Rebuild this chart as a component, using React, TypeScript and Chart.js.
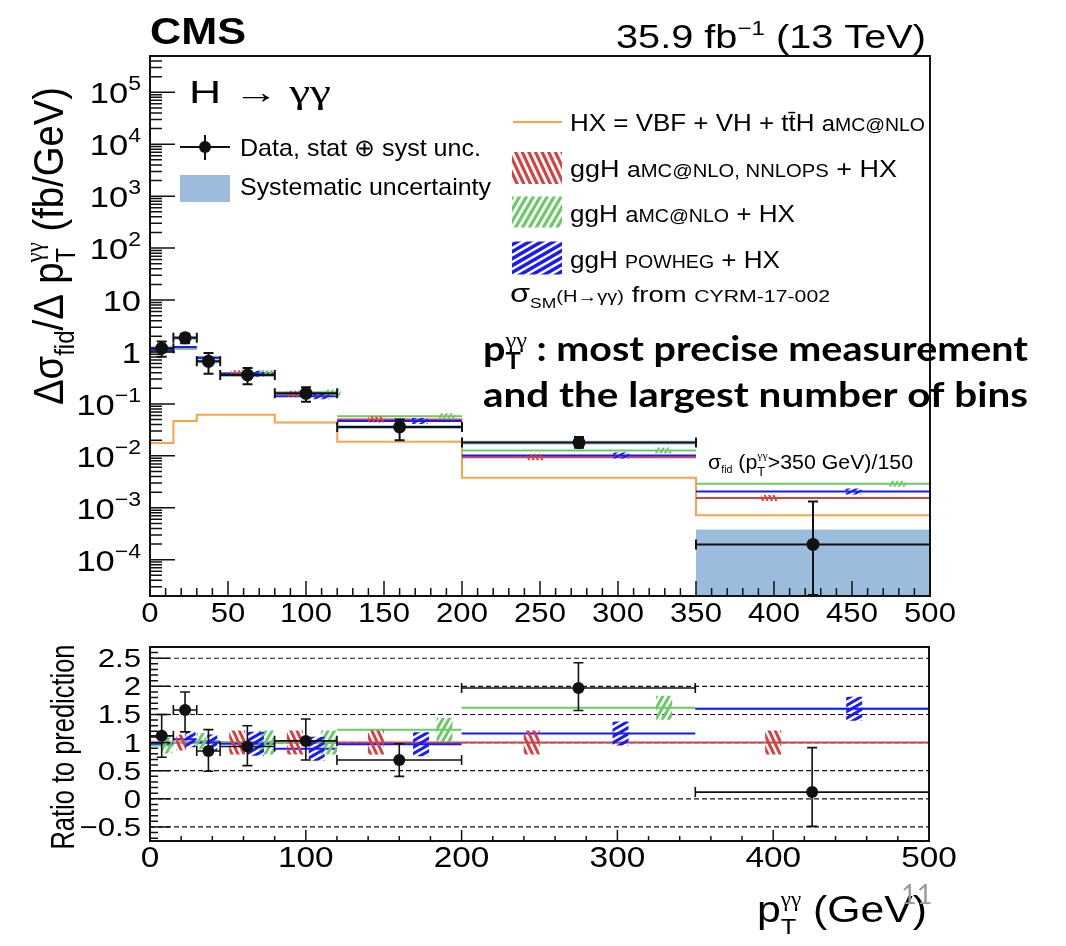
import React, { useEffect, useRef } from 'react';
import { Chart, registerables } from 'chart.js';

Chart.register(...registerables);

// ---------------- data ----------------
const binEdges = [0, 15, 30, 45, 80, 120, 200, 350, 500];
const binCenters = [7.5, 22.5, 37.5, 62.5, 100, 160, 275, 425];

// measured differential cross section (fb/GeV), last bin = sigma(>350)/150
const dataXsec = [1.18, 1.87, 0.66, 0.36, 0.16, 0.036, 0.018, 0.000197];
const dataHigh = [1.59, 2.25, 0.95, 0.49, 0.21, 0.05, 0.023, 0.00132];
const dataLow = [0.81, 1.47, 0.38, 0.24, 0.11, 0.02, 0.0143, 0.000021];
const sysHigh = [1.29, 2.03, 0.72, 0.39, 0.174, 0.039, 0.0196, 0.00038];
const sysLow = [1.08, 1.72, 0.6, 0.33, 0.147, 0.033, 0.0165, 0.000001];

// predictions (fb/GeV)
const hxXsec = [0.0176, 0.047, 0.062, 0.062, 0.044, 0.0186, 0.0038, 0.00072];
const nnlopsXsec = [1.05, 1.17, 0.77, 0.39, 0.157, 0.05, 0.0094, 0.00154];
const amcXsec = [1.0, 1.17, 0.79, 0.39, 0.165, 0.058, 0.0126, 0.0029];
const powhegXsec = [1.08, 1.24, 0.77, 0.38, 0.14, 0.047, 0.0101, 0.00205];

// ratio panel
const ratioData = [1.12, 1.58, 0.85, 0.93, 1.03, 0.69, 1.97, 0.12];
const ratioHigh = [1.5, 1.9, 1.23, 1.3, 1.42, 0.98, 2.42, 0.91];
const ratioLow = [0.74, 1.19, 0.49, 0.59, 0.69, 0.4, 1.57, -0.49];
const ratioNnlops = [1, 1, 1, 1, 1, 1, 1, 1];
const ratioAmc = [0.95, 1.0, 1.03, 1.0, 1.0, 1.23, 1.62, 1.6];
const ratioPowheg = [0.98, 1.06, 1.0, 0.98, 0.89, 0.97, 1.16, 1.6];

// positions (GeV) of the hatched theory-uncertainty patches
const hatchTopNnlops = [57, 93, 145, 247, 397];
const hatchTopAmc = [75, 117, 190, 329, 479];
const hatchTopPowheg = [68, 110, 173, 302, 451];
const hatchRatioNnlops = [20, 56, 93, 145, 245, 400];
const hatchRatioAmc = [11, 33, 75, 115, 189, 330];
const hatchRatioPowheg = [26, 40, 68, 107, 174, 302, 452];

// axes / ticks
const topYMin = 2e-5;
const topYMax = 5e5;
const topYTickExponents = [-4, -3, -2, -1, 0, 1, 2, 3, 4, 5];
const topXTicks = [0, 50, 100, 150, 200, 250, 300, 350, 400, 450, 500];
const ratioYMin = -0.75;
const ratioYMax = 2.7;
const ratioYTicks = [-0.5, 0, 0.5, 1, 1.5, 2, 2.5];
const ratioYTickLabels = ['\u22120.5', '0', '0.5', '1', '1.5', '2', '2.5'];
const ratioXTicks = [0, 100, 200, 300, 400, 500];

// ---------------- style ----------------
const W = 1066;
const H = 946;
const RED = '#d84141';
const GREEN = '#6acb66';
const BLUE = '#1a1aff';
const ORANGE = '#ffa245';
const SYS = '#9cbcdd';
const INK = '#111111';
const SX = 1.15;
const FONT = '"Liberation Sans", Arial, Helvetica, sans-serif';
const GREEK = '"Liberation Serif", "DejaVu Serif", serif';
const SLIDE_FONT = 'Lato, "Open Sans", sans-serif';

type Seg = { t: string; s: number; dy?: number; b?: boolean; stack?: boolean; f?: string };
type RichOpts = { align?: 'left' | 'right' | 'center'; width?: number; sx?: number; sy?: number; rot?: number; fam?: string; color?: string };

function segFont(sg: Seg, fam: string) {
  return `${sg.b ? 'bold ' : ''}${sg.s}px ${sg.f ?? fam}`;
}

function layoutRich(ctx: CanvasRenderingContext2D, segs: Seg[], fam: string) {
  const pos: number[] = [];
  let cur = 0;
  let ps = 0;
  let pw = 0;
  for (const sg of segs) {
    ctx.font = segFont(sg, fam);
    const w = ctx.measureText(sg.t).width;
    if (sg.stack) {
      pos.push(ps);
      pw = Math.max(pw, w);
      cur = ps + pw;
    } else {
      pos.push(cur);
      ps = cur;
      pw = w;
      cur += w;
    }
  }
  return { pos, total: cur };
}

function drawRich(ctx: CanvasRenderingContext2D, segs: Seg[], x: number, y: number, o: RichOpts = {}) {
  const fam = o.fam ?? FONT;
  const { pos, total } = layoutRich(ctx, segs, fam);
  const sx = o.width ? o.width / total : o.sx ?? 1;
  const w = total * sx;
  ctx.save();
  ctx.translate(x, y);
  if (o.rot) ctx.rotate(o.rot);
  const start = o.align === 'right' ? -w : o.align === 'center' ? -w / 2 : 0;
  ctx.translate(start, 0);
  ctx.scale(sx, o.sy ?? 1);
  ctx.fillStyle = o.color ?? '#000';
  ctx.textAlign = 'left';
  ctx.textBaseline = 'alphabetic';
  segs.forEach((sg, i) => {
    ctx.font = segFont(sg, fam);
    ctx.fillText(sg.t, pos[i], sg.dy ?? 0);
  });
  ctx.restore();
}

function clipArea(ctx: CanvasRenderingContext2D, a: any) {
  ctx.beginPath();
  ctx.rect(a.left, a.top, a.right - a.left, a.bottom - a.top);
  ctx.clip();
}

function hatch(ctx: CanvasRenderingContext2D, cx: number, cy: number, w: number, h: number, color: string, angleDeg: number, spacing: number, lw: number) {
  ctx.save();
  ctx.beginPath();
  ctx.rect(cx - w / 2, cy - h / 2, w, h);
  ctx.clip();
  ctx.strokeStyle = color;
  ctx.lineWidth = lw;
  const a = (angleDeg * Math.PI) / 180;
  const dx = Math.cos(a);
  const dy = -Math.sin(a);
  const nx = -dy;
  const ny = dx;
  const R = Math.hypot(w, h);
  ctx.beginPath();
  for (let s = -R; s <= R; s += spacing) {
    const ox = cx + nx * s;
    const oy = cy + ny * s;
    ctx.moveTo(ox - dx * R, oy - dy * R);
    ctx.lineTo(ox + dx * R, oy + dy * R);
  }
  ctx.stroke();
  ctx.restore();
}

function binIndex(x: number) {
  for (let i = 0; i < binEdges.length - 1; i++) if (x >= binEdges[i] && x < binEdges[i + 1]) return i;
  return binEdges.length - 2;
}

function segLines(vals: number[]) {
  const pts: { x: number; y: number | null }[] = [];
  vals.forEach((v, i) => {
    pts.push({ x: binEdges[i], y: v }, { x: binEdges[i + 1], y: v }, { x: binEdges[i + 1], y: null });
  });
  return pts;
}

function stepLine(vals: number[]) {
  const pts = vals.map((v, i) => ({ x: binEdges[i], y: v }));
  pts.push({ x: binEdges[vals.length], y: vals[vals.length - 1] });
  return pts;
}

function drawErrors(ctx: CanvasRenderingContext2D, xs: any, ys: any, vals: number[], hi: number[], lo: number[], lw: number, capH: number, capV: number) {
  ctx.strokeStyle = INK;
  ctx.lineWidth = lw;
  ctx.beginPath();
  vals.forEach((v, i) => {
    const x1 = xs.getPixelForValue(binEdges[i]);
    const x2 = xs.getPixelForValue(binEdges[i + 1]);
    const xc = xs.getPixelForValue(binCenters[i]);
    const yc = ys.getPixelForValue(v);
    const yh = ys.getPixelForValue(hi[i]);
    const yl = ys.getPixelForValue(lo[i]);
    ctx.moveTo(x1, yc);
    ctx.lineTo(x2, yc);
    ctx.moveTo(x1, yc - capH);
    ctx.lineTo(x1, yc + capH);
    ctx.moveTo(x2, yc - capH);
    ctx.lineTo(x2, yc + capH);
    ctx.moveTo(xc, yh);
    ctx.lineTo(xc, yl);
    ctx.moveTo(xc - capV, yh);
    ctx.lineTo(xc + capV, yh);
    ctx.moveTo(xc - capV, yl);
    ctx.lineTo(xc + capV, yl);
  });
  ctx.stroke();
}

const GG = '\u03b3\u03b3';

// ---------------- top panel decorations ----------------
const topPlugin = {
  id: 'topDeco',
  beforeDatasetsDraw(chart: any) {
    const { ctx, chartArea: a } = chart;
    const xs = chart.scales.x;
    const ys = chart.scales.y;
    ctx.save();
    clipArea(ctx, a);
    ctx.fillStyle = SYS;
    for (let i = 0; i < sysHigh.length; i++) {
      const x1 = xs.getPixelForValue(binEdges[i]);
      const x2 = xs.getPixelForValue(binEdges[i + 1]);
      const y1 = ys.getPixelForValue(sysHigh[i]);
      const y2 = ys.getPixelForValue(sysLow[i]);
      ctx.fillRect(x1, y1, x2 - x1, y2 - y1);
    }
    ctx.restore();
  },
  beforeDatasetDraw(chart: any, args: any) {
    if (args.index !== 0) return;
    const { ctx, chartArea: a } = chart;
    const xs = chart.scales.x;
    const ys = chart.scales.y;
    ctx.save();
    clipArea(ctx, a);
    const patches: [number[], number[], string, number][] = [
      [hatchTopNnlops, nnlopsXsec, RED, -65],
      [hatchTopAmc, amcXsec, GREEN, 60],
      [hatchTopPowheg, powhegXsec, BLUE, 30],
    ];
    patches.forEach(([xsArr, series, col, ang]) => {
      xsArr.forEach((xv) => {
        const cx = xs.getPixelForValue(xv);
        const cy = ys.getPixelForValue(series[binIndex(xv)]);
        hatch(ctx, cx, cy, 16, 6, col, ang, 4, 2);
      });
    });
    drawErrors(ctx, xs, ys, dataXsec, dataHigh, dataLow, 2, 5, 5);
    ctx.restore();
  },
  afterDraw(chart: any) {
    const { ctx, chartArea: a } = chart;
    const xs = chart.scales.x;
    const ys = chart.scales.y;
    ctx.save();
    // ticks
    ctx.strokeStyle = INK;
    ctx.lineWidth = 1.5;
    ctx.beginPath();
    for (let e = -5; e <= 5; e++) {
      for (let m = 1; m <= 9; m++) {
        const v = m * Math.pow(10, e);
        if (v < topYMin || v > topYMax) continue;
        const p = ys.getPixelForValue(v);
        const len = m === 1 ? 25 : 12;
        ctx.moveTo(a.left, p);
        ctx.lineTo(a.left + len, p);
      }
    }
    for (let v = 0; v <= 500; v += 10) {
      const p = xs.getPixelForValue(v);
      const len = v % 50 === 0 ? 15 : 8;
      ctx.moveTo(p, a.bottom);
      ctx.lineTo(p, a.bottom - len);
    }
    ctx.stroke();
    // frame
    ctx.lineWidth = 2;
    ctx.strokeRect(a.left, a.top, a.right - a.left, a.bottom - a.top);

    // tick labels
    topYTickExponents.forEach((e) => {
      const p = ys.getPixelForValue(Math.pow(10, e));
      let segs: Seg[];
      if (e === 0) segs = [{ t: '1', s: 30 }];
      else if (e === 1) segs = [{ t: '10', s: 30 }];
      else segs = [{ t: '10', s: 30 }, { t: e < 0 ? '\u2212' + -e : String(e), s: 20, dy: -13 }];
      drawRich(ctx, segs, 141, p + 11, { align: 'right', sx: SX });
    });
    topXTicks.forEach((v) => {
      drawRich(ctx, [{ t: String(v), s: 27 }], xs.getPixelForValue(v), 622, { align: 'center', sx: SX });
    });

    // header
    drawRich(ctx, [{ t: 'CMS', s: 37, b: true }], 150, 44, { width: 96 });
    drawRich(ctx, [{ t: '35.9 fb', s: 33 }, { t: '\u22121', s: 20, dy: -13 }, { t: ' (13 TeV)', s: 33 }], 926, 48, { align: 'right', width: 310 });
    drawRich(ctx, [{ t: 'H ', s: 32 }, { t: '\u2192 ', s: 32, f: GREEK }, { t: GG, s: 34, f: GREEK }], 189, 103, { width: 142 });

    // y title
    drawRich(
      ctx,
      [
        { t: '\u0394\u03c3', s: 35 },
        { t: 'fid', s: 22, dy: 9 },
        { t: '/\u0394 p', s: 35 },
        { t: 'T', s: 22, dy: 10 },
        { t: GG, s: 21, dy: -16, stack: true, f: GREEK },
        { t: ' (fb/GeV)', s: 35 },
      ],
      63,
      246,
      { rot: -Math.PI / 2, align: 'center', width: 318, sy: 1.22 }
    );

    // left legend
    ctx.strokeStyle = INK;
    ctx.lineWidth = 2;
    ctx.beginPath();
    ctx.moveTo(180, 147);
    ctx.lineTo(230, 147);
    ctx.moveTo(205, 135);
    ctx.lineTo(205, 160);
    ctx.stroke();
    ctx.fillStyle = INK;
    ctx.beginPath();
    ctx.arc(205, 147, 6, 0, Math.PI * 2);
    ctx.fill();
    drawRich(ctx, [{ t: 'Data, stat \u2295 syst unc.', s: 24 }], 240, 156, { width: 241 });
    ctx.fillStyle = SYS;
    ctx.fillRect(180, 175, 50, 27);
    drawRich(ctx, [{ t: 'Systematic uncertainty', s: 24 }], 240, 195, { width: 251 });

    // right legend
    ctx.strokeStyle = ORANGE;
    ctx.lineWidth = 2;
    ctx.beginPath();
    ctx.moveTo(513, 122);
    ctx.lineTo(562, 122);
    ctx.stroke();
    drawRich(ctx, [{ t: 'HX = VBF + VH + tt\u0304H ', s: 24 }, { t: 'a', s: 22 }, { t: 'MC@NLO', s: 18 }], 570, 131, { width: 355 });
    hatch(ctx, 537, 168, 50, 32, RED, -65, 6, 3.2);
    drawRich(ctx, [{ t: 'ggH ', s: 24 }, { t: 'a', s: 22 }, { t: 'MC@NLO, NNLOPS', s: 18 }, { t: ' + HX', s: 24 }], 570, 177, { width: 327 });
    hatch(ctx, 537, 212, 50, 31, GREEN, 60, 6, 3.2);
    drawRich(ctx, [{ t: 'ggH ', s: 24 }, { t: 'a', s: 22 }, { t: 'MC@NLO', s: 18 }, { t: ' + HX', s: 24 }], 570, 222, { width: 225 });
    hatch(ctx, 537, 258, 50, 33, BLUE, 30, 6, 3.5);
    drawRich(ctx, [{ t: 'ggH ', s: 24 }, { t: 'POWHEG', s: 18 }, { t: ' + HX', s: 24 }], 570, 268, { width: 210 });
    drawRich(
      ctx,
      [
        { t: '\u03c3', s: 26 },
        { t: 'SM', s: 14, dy: 6 },
        { t: '(H\u2192' + GG + ')', s: 16 },
        { t: ' from ', s: 22 },
        { t: 'CYRM-17-002', s: 17 },
      ],
      510,
      302,
      { width: 320 }
    );

    // annotation in last bin
    drawRich(
      ctx,
      [
        { t: '\u03c3', s: 20 },
        { t: 'fid', s: 10, dy: 4 },
        { t: ' (p', s: 20 },
        { t: 'T', s: 12, dy: 7 },
        { t: GG, s: 11, dy: -10, stack: true, f: GREEK },
        { t: '>350 GeV)/150', s: 20 },
      ],
      708,
      469,
      { width: 205 }
    );

    // slide annotation
    drawRich(
      ctx,
      [
        { t: 'p', s: 34, b: true },
        { t: 'T', s: 22, b: true, dy: 8 },
        { t: GG, s: 21, dy: -14, stack: true, f: GREEK },
        { t: ' : most precise measurement', s: 34, b: true },
      ],
      483,
      361,
      { width: 545, fam: SLIDE_FONT }
    );
    drawRich(ctx, [{ t: 'and the largest number of bins', s: 34, b: true }], 483, 407, { width: 545, fam: SLIDE_FONT });
    ctx.restore();
  },
};

// ---------------- ratio panel decorations ----------------
const ratioPlugin = {
  id: 'ratioDeco',
  beforeDatasetsDraw(chart: any) {
    const { ctx, chartArea: a } = chart;
    const ys = chart.scales.y;
    ctx.save();
    ctx.strokeStyle = INK;
    ctx.lineWidth = 1.2;
    ctx.setLineDash([5, 3]);
    ctx.beginPath();
    ratioYTicks.forEach((v) => {
      const p = ys.getPixelForValue(v);
      ctx.moveTo(a.left, p);
      ctx.lineTo(a.right, p);
    });
    ctx.stroke();
    ctx.restore();
  },
  beforeDatasetDraw(chart: any, args: any) {
    if (args.index !== 0) return;
    const { ctx, chartArea: a } = chart;
    const xs = chart.scales.x;
    const ys = chart.scales.y;
    ctx.save();
    clipArea(ctx, a);
    const patches: [number[], number[], string, number][] = [
      [hatchRatioNnlops, ratioNnlops, RED, -65],
      [hatchRatioAmc, ratioAmc, GREEN, 60],
      [hatchRatioPowheg, ratioPowheg, BLUE, 30],
    ];
    patches.forEach(([xsArr, series, col, ang]) => {
      xsArr.forEach((xv) => {
        const cx = xs.getPixelForValue(xv);
        const cy = ys.getPixelForValue(series[binIndex(xv)]);
        const small = xv < 50;
        hatch(ctx, cx, cy, small ? 10 : 16, small ? 16 : 24, col, ang, 5.5, 3);
      });
    });
    drawErrors(ctx, xs, ys, ratioData, ratioHigh, ratioLow, 1.6, 5, 5);
    ctx.restore();
  },
  afterDraw(chart: any) {
    const { ctx, chartArea: a } = chart;
    const xs = chart.scales.x;
    const ys = chart.scales.y;
    ctx.save();
    ctx.strokeStyle = INK;
    ctx.lineWidth = 1.5;
    ctx.beginPath();
    for (let k = -7; k <= 27; k++) {
      const v = k / 10;
      if (v < ratioYMin || v > ratioYMax) continue;
      const p = ys.getPixelForValue(v);
      const len = k % 5 === 0 ? 20 : 8;
      ctx.moveTo(a.left, p);
      ctx.lineTo(a.left + len, p);
    }
    for (let v = 0; v <= 500; v += 20) {
      const p = xs.getPixelForValue(v);
      const len = v % 100 === 0 ? 11 : 5;
      ctx.moveTo(p, a.bottom);
      ctx.lineTo(p, a.bottom - len);
    }
    ctx.stroke();
    ctx.lineWidth = 2;
    ctx.strokeRect(a.left, a.top, a.right - a.left, a.bottom - a.top);

    ratioYTicks.forEach((v, i) => {
      drawRich(ctx, [{ t: ratioYTickLabels[i], s: 26 }], 141, ys.getPixelForValue(v) + 9, { align: 'right', sx: 1.2 });
    });
    ratioXTicks.forEach((v) => {
      drawRich(ctx, [{ t: String(v), s: 29 }], xs.getPixelForValue(v), 867, { align: 'center', sx: 1.15 });
    });

    drawRich(ctx, [{ t: 'Ratio to prediction', s: 25 }], 74, 747, { rot: -Math.PI / 2, align: 'center', width: 205, sy: 1.3 });
    drawRich(
      ctx,
      [
        { t: 'p', s: 37 },
        { t: 'T', s: 22, dy: 12 },
        { t: GG, s: 20, dy: -16, stack: true, f: GREEK },
        { t: ' (GeV)', s: 37 },
      ],
      927,
      922,
      { align: 'right', width: 170 }
    );
    drawRich(ctx, [{ t: '11', s: 27 }], 901, 904, { fam: SLIDE_FONT, color: '#9a9a9a' });
    ctx.restore();
  },
};

function lineDs(label: string, data: any[], color: string, extra: any = {}) {
  return { label, data, showLine: true, borderColor: color, borderWidth: 2, pointRadius: 0, pointHoverRadius: 0, spanGaps: false, fill: false, ...extra };
}

export default function App() {
  const topRef = useRef<HTMLCanvasElement>(null);
  const botRef = useRef<HTMLCanvasElement>(null);

  useEffect(() => {
    const top = new Chart(topRef.current as HTMLCanvasElement, {
      type: 'scatter',
      data: {
        datasets: [
          {
            label: 'Data',
            data: binCenters.map((x, i) => ({ x, y: dataXsec[i] })),
            pointRadius: 6.5,
            pointBackgroundColor: INK,
            pointBorderWidth: 0,
            showLine: false,
          },
          lineDs('ggH POWHEG + HX', segLines(powhegXsec), BLUE),
          lineDs('ggH aMC@NLO + HX', segLines(amcXsec), GREEN),
          lineDs('ggH aMC@NLO, NNLOPS + HX', segLines(nnlopsXsec), RED),
          lineDs('HX', stepLine(hxXsec), ORANGE, { stepped: true }),
        ] as any,
      },
      options: {
        responsive: false,
        animation: false,
        devicePixelRatio: 1,
        layout: { padding: { left: 150, right: W - 930, top: 56, bottom: H - 596 } },
        scales: {
          x: { type: 'linear', min: 0, max: 500, display: false },
          y: { type: 'logarithmic', min: topYMin, max: topYMax, display: false },
        },
        plugins: { legend: { display: false }, tooltip: { enabled: false } },
      },
      plugins: [topPlugin],
    } as any);

    const bot = new Chart(botRef.current as HTMLCanvasElement, {
      type: 'scatter',
      data: {
        datasets: [
          {
            label: 'Data / prediction',
            data: binCenters.map((x, i) => ({ x, y: ratioData[i] })),
            pointRadius: 6,
            pointBackgroundColor: INK,
            pointBorderWidth: 0,
            showLine: false,
          },
          lineDs('POWHEG', segLines(ratioPowheg), BLUE),
          lineDs('aMC@NLO', segLines(ratioAmc), GREEN),
          lineDs('NNLOPS', segLines(ratioNnlops), RED),
        ] as any,
      },
      options: {
        responsive: false,
        animation: false,
        devicePixelRatio: 1,
        layout: { padding: { left: 150, right: W - 929, top: 647, bottom: H - 841 } },
        scales: {
          x: { type: 'linear', min: 0, max: 500, display: false },
          y: { type: 'linear', min: ratioYMin, max: ratioYMax, display: false },
        },
        plugins: { legend: { display: false }, tooltip: { enabled: false } },
      },
      plugins: [ratioPlugin],
    } as any);

    return () => {
      top.destroy();
      bot.destroy();
    };
  }, []);

  const cs: React.CSSProperties = { position: 'absolute', left: 0, top: 0, width: W, height: H };
  return (
    <div style={{ position: 'absolute', left: 0, top: 0, width: W, height: H, background: '#fff' }}>
      <canvas ref={topRef} width={W} height={H} style={cs} />
      <canvas ref={botRef} width={W} height={H} style={cs} />
    </div>
  );
}
